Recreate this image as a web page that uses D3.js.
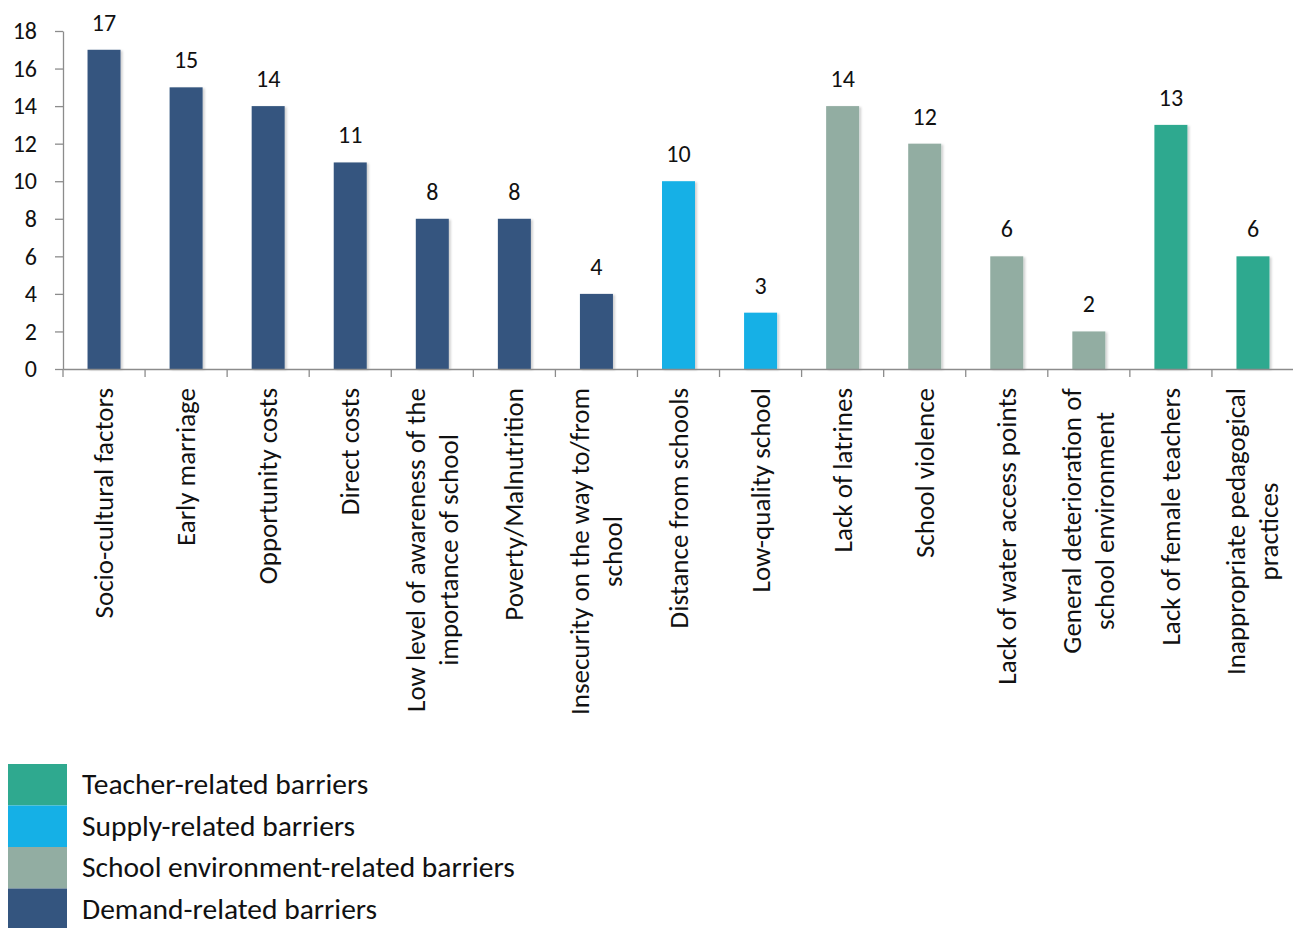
<!DOCTYPE html>
<html>
<head>
<meta charset="utf-8">
<script src="https://cdn.jsdelivr.net/npm/d3@7"></script>
<style>
  html, body { margin: 0; padding: 0; background: #fff; }
  svg { display: block; font-family: Carlito, "Open Sans", Lato, sans-serif; }
</style>
</head>
<body>
<svg id="chart" width="1293" height="928"></svg>
<script>
// Barriers to schooling, number of mentions
const categories = [
  "Socio-cultural factors",
  "Early marriage",
  "Opportunity costs",
  "Direct costs",
  "Low level of awareness of the|importance of school",
  "Poverty/Malnutrition",
  "Insecurity on the way to/from|school",
  "Distance from schools",
  "Low-quality school",
  "Lack of latrines",
  "School violence",
  "Lack of water access points",
  "General deterioration of|school environment",
  "Lack of female teachers",
  "Inappropriate pedagogical|practices"
];
const values = [17, 15, 14, 11, 8, 8, 4, 10, 3, 14, 12, 6, 2, 13, 6];
const groups = [
  "Demand", "Demand", "Demand", "Demand", "Demand", "Demand", "Demand",
  "Supply", "Supply",
  "Environment", "Environment", "Environment", "Environment",
  "Teacher", "Teacher"
];
const yTicks = [0, 2, 4, 6, 8, 10, 12, 14, 16, 18];
const legendKeys = ["Teacher", "Supply", "Environment", "Demand"];
const legendLabels = [
  "Teacher-related barriers",
  "Supply-related barriers",
  "School environment-related barriers",
  "Demand-related barriers"
];

const color = d3.scaleOrdinal()
  .domain(["Demand", "Supply", "Environment", "Teacher"])
  .range(["#34557f", "#15b0e6", "#92ada2", "#2fa98f"]);

const svg = d3.select("#chart");
const plotLeft = 63, plotRight = 1294, plotTop = 31, plotBottom = 369;

const x = d3.scaleBand().domain(categories).range([plotLeft, plotRight]).paddingInner(0).paddingOuter(0);
const y = d3.scaleLinear().domain([0, 18]).range([plotBottom, plotTop]);

const axisColor = "#8c8c8c";
const textColor = "#111";
const numSize = 24;

// y axis
const yAxis = svg.append("g")
  .attr("transform", `translate(${plotLeft},0)`)
  .call(d3.axisLeft(y).tickValues(yTicks).tickSize(8).tickSizeOuter(0).tickPadding(18));
yAxis.select(".domain").attr("stroke", axisColor).attr("stroke-width", 1.3);
yAxis.selectAll(".tick line").attr("stroke", axisColor).attr("stroke-width", 1.3);
yAxis.selectAll(".tick text")
  .attr("font-size", numSize).attr("fill", textColor)
  .style("font-family", "Carlito, 'Open Sans', Lato, sans-serif");

// bars
const barW = 33;
const defs = svg.append("defs");
defs.append("filter").attr("id", "shade")
  .attr("x", "-20%").attr("y", "-5%").attr("width", "150%").attr("height", "110%")
  .html('<feDropShadow dx="2" dy="1" stdDeviation="1.2" flood-color="#000" flood-opacity="0.18"/>');

svg.append("g").selectAll("rect")
  .data(categories)
  .join("rect")
  .attr("x", (d) => x(d) + x.bandwidth() / 2 - barW / 2)
  .attr("width", barW)
  .attr("y", (d, i) => y(values[i]))
  .attr("height", (d, i) => y(0) - y(values[i]))
  .attr("fill", (d, i) => color(groups[i]))
  .attr("filter", "url(#shade)");

// value labels
svg.append("g").selectAll("text")
  .data(categories)
  .join("text")
  .attr("x", (d) => x(d) + x.bandwidth() / 2)
  .attr("y", (d, i) => y(values[i]) - 19)
  .attr("text-anchor", "middle")
  .attr("font-size", numSize)
  .attr("fill", textColor)
  .text((d, i) => values[i]);

// x axis
const xAxis = svg.append("g")
  .attr("transform", `translate(0,${plotBottom})`)
  .call(d3.axisBottom(x).tickSize(0).tickFormat(""));
xAxis.select(".domain").attr("stroke", axisColor).attr("stroke-width", 1.3);
xAxis.selectAll(".tick").remove();

// category boundary ticks
const boundaries = d3.range(categories.length + 1).map((i) => plotLeft + i * x.bandwidth());
svg.append("g").selectAll("line")
  .data(boundaries)
  .join("line")
  .attr("x1", (d) => d).attr("x2", (d) => d)
  .attr("y1", plotBottom).attr("y2", plotBottom + 8)
  .attr("stroke", axisColor).attr("stroke-width", 1.3);

// rotated category labels
const lineH = 33;
const labelSize = 27;
const labelG = svg.append("g");
categories.forEach((c, i) => {
  const lines = c.split("|");
  const cx = x(c) + x.bandwidth() / 2;
  const n = lines.length;
  const t = labelG.append("text")
    .attr("transform", `translate(${cx},${plotBottom + 19}) rotate(-90)`)
    .attr("font-size", labelSize)
    .attr("fill", textColor)
    .attr("text-anchor", n > 1 ? "middle" : "end");
  if (n === 1) {
    t.append("tspan").attr("x", 0).attr("y", 9).text(lines[0]);
  } else {
    // two-line labels: lines centred on each other, block top at the axis gap
    lines.forEach((ln, k) => {
      t.append("tspan").attr("x", 0)
        .attr("y", 9 + (k - (n - 1) / 2) * lineH)
        .text(ln);
    });
    const w = t.node().getBBox().width;
    t.selectAll("tspan").attr("x", -w / 2);
  }
});

// legend
const lg = svg.append("g");
legendKeys.forEach((k, i) => {
  const y0 = 764 + i * 41.5;
  lg.append("rect").attr("x", 8).attr("y", y0).attr("width", 59).attr("height", 41.5)
    .attr("fill", color(k));
  lg.append("text").attr("x", 82).attr("y", y0 + 30)
    .attr("font-size", 29.5).attr("fill", textColor).text(legendLabels[i]);
});
</script>
</body>
</html>
